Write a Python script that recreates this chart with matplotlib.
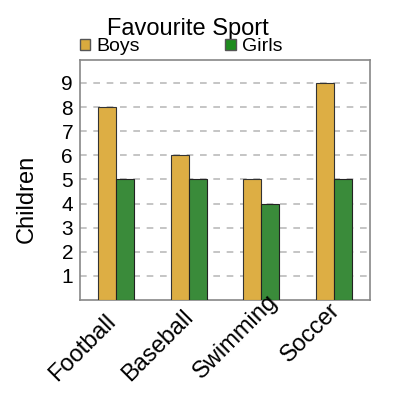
import numpy as np
import matplotlib.pyplot as plt
from matplotlib.patches import Patch

sports = ['Football', 'Baseball', 'Swimming', 'Soccer']
boys = [8, 6, 5, 9]
girls = [5, 5, 4, 5]

plt.rcParams['font.family'] = ['Liberation Sans', 'DejaVu Sans']

fig = plt.figure(figsize=(4, 4), dpi=100)
ax = fig.add_axes([0.2, 0.25, 0.725, 0.6])

x = np.arange(len(sports))
w = 0.25
ax.bar(x - w / 2, boys, w, color='#ddae44', edgecolor='#333333', linewidth=0.8, zorder=3)
ax.bar(x + w / 2, girls, w, color='#3a8b3a', edgecolor='#222222', linewidth=0.8, zorder=3)

ax.set_xlim(-0.5, 3.5)
ax.set_ylim(0, 9.95)
ax.set_yticks(range(1, 10))
ax.tick_params(axis='y', length=0, labelsize=15, pad=5)
ax.set_xticks(x)
ax.set_xticklabels([])
ax.tick_params(axis='x', length=0)

# rotated category labels, centred a little below-left of each group (pixels)
label_offsets = [(-34, -48), (-31, -46), (-26, -37), (-23, -33)]
xform = ax.get_xaxis_transform()
for xi, name, off in zip(x, sports, label_offsets):
    ax.annotate(name, xy=(xi, 0), xycoords=xform, xytext=off,
                textcoords='offset pixels', rotation=45, ha='center', va='center',
                fontsize=17, annotation_clip=False)

ax.yaxis.grid(True, linestyle=(0, (4, 4)), color='#bbbbbb', linewidth=1.2, zorder=0)
for s in ax.spines.values():
    s.set_color('#888888')
    s.set_linewidth(1.2)

ax.set_ylabel('Children', fontsize=17)
ax.yaxis.set_label_coords(-0.145, 0.42)
fig.text(0.47, 0.928, 'Favourite Sport', ha='center', va='center', fontsize=17)

handles = [Patch(facecolor='#d9ab3e', edgecolor='#555555'),
           Patch(facecolor='#1e8c1e', edgecolor='#555555')]
leg = fig.legend(handles, ['Boys', 'Girls'], loc='center left', bbox_to_anchor=(0.175, 0.883),
                 ncol=2, frameon=False, fontsize=14, handlelength=0.55, handleheight=0.55,
                 handletextpad=0.3, columnspacing=4.4, borderpad=0)

fig.savefig('out.png', dpi=100)
